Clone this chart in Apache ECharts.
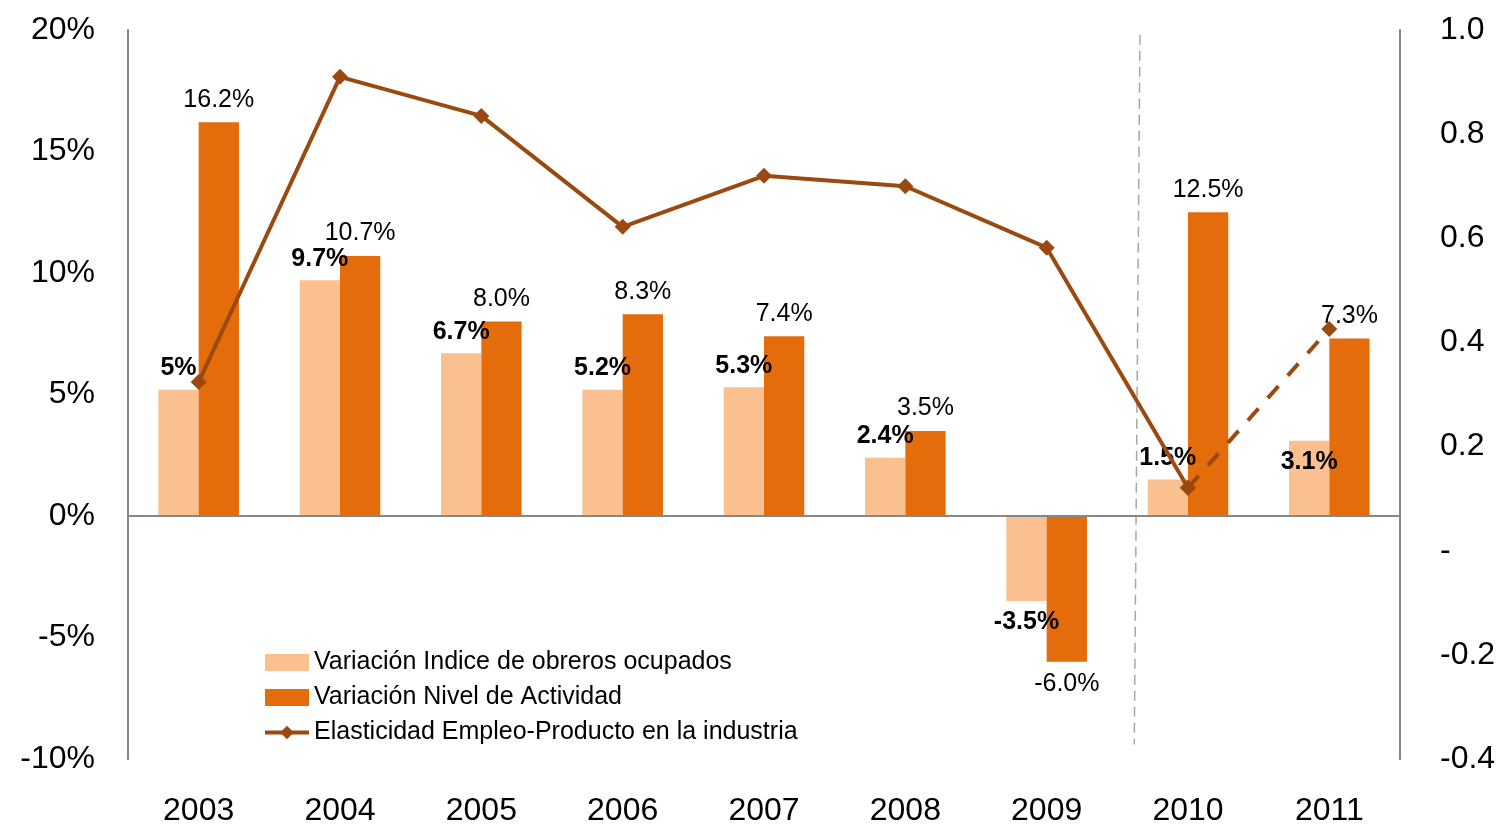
<!DOCTYPE html>
<html>
<head>
<meta charset="utf-8">
<script src="https://cdn.jsdelivr.net/npm/echarts@6/dist/echarts.min.js"></script>
<style>
html,body{margin:0;padding:0;background:#fff;}
#chart{width:1505px;height:827px;}
</style>
</head>
<body>
<div id="chart"></div>
<script>
var categories = ['2003','2004','2005','2006','2007','2008','2009','2010','2011'];
var obreros = [5.2, 9.7, 6.7, 5.2, 5.3, 2.4, -3.5, 1.5, 3.1];
var obrerosLabels = ['5%','9.7%','6.7%','5.2%','5.3%','2.4%','-3.5%','1.5%','3.1%'];
var actividad = [16.2, 10.7, 8.0, 8.3, 7.4, 3.5, -6.0, 12.5, 7.3];
var actividadLabels = ['16.2%','10.7%','8.0%','8.3%','7.4%','3.5%','-6.0%','12.5%','7.3%'];
var elasticidad = [0.324, 0.91, 0.835, 0.622, 0.72, 0.70, 0.582, 0.121, null];
var elasticidadProy = [null, null, null, null, null, null, null, 0.121, 0.426];
var separatorX = [6.66, 6.62];
var separatorY = [19.8, -9.4];
var names = ['Variación Indice de obreros ocupados','Variación Nivel de Actividad','Elasticidad Empleo-Producto en la industria'];

var FONT = 'Liberation Sans, Arial, sans-serif';
var LINE = '#9A4A10';

function barData(vals, labels, bold) {
  return vals.map(function (v, i) {
    var lab = {show: true, formatter: labels[i], position: v < 0 ? 'bottom' : 'top', distance: bold ? 9 : 10};
    if (bold && i === 8) { lab.position = 'insideTop'; lab.distance = 9; }
    return {value: v, label: lab};
  });
}

var chart = echarts.init(document.getElementById('chart'));
chart.setOption({
  animation: false,
  textStyle: {fontFamily: FONT},
  grid: {left: 128, right: 105, top: 30, bottom: 67, containLabel: false},
  legend: {
    data: [
      {name: names[0], icon: 'rect'},
      {name: names[1], icon: 'rect'},
      {name: names[2], lineStyle: {width: 4, color: LINE}}
    ],
    orient: 'vertical', left: 263, top: 650, padding: 0,
    itemWidth: 44, itemHeight: 17, itemGap: 10,
    textStyle: {fontSize: 25, color: '#000', fontFamily: FONT}
  },
  xAxis: [{
    type: 'category', data: categories,
    axisLine: {show: false, onZero: false}, axisTick: {show: false},
    axisLabel: {fontSize: 32, color: '#000', margin: 36, fontFamily: FONT}
  }, {
    type: 'value', min: -0.5, max: 8.5, show: false
  }],
  yAxis: [{
    type: 'value', min: -10, max: 20, interval: 5,
    axisLine: {show: true, onZero: false, lineStyle: {color: '#868686', width: 2}},
    axisTick: {show: false}, splitLine: {show: false},
    axisLabel: {fontSize: 32, color: '#000', margin: 33, formatter: '{value}%', fontFamily: FONT}
  }, {
    type: 'value', min: -0.4, max: 1.0, interval: 0.2, position: 'right',
    axisLine: {show: true, onZero: false, lineStyle: {color: '#868686', width: 2}},
    axisTick: {show: false}, splitLine: {show: false},
    axisLabel: {fontSize: 32, color: '#000', margin: 40, fontFamily: FONT,
      formatter: function (v) { return Math.abs(v) < 1e-9 ? '-' : v.toFixed(1); }}
  }],
  series: [{
    name: names[0], type: 'bar', data: barData(obreros, obrerosLabels, true),
    itemStyle: {color: '#FAC090'}, barGap: '0%', barCategoryGap: '43%',
    label: {fontSize: 25, fontWeight: 'bold', color: '#000', fontFamily: FONT},
    markLine: {silent: true, symbol: 'none', label: {show: false},
      lineStyle: {color: '#868686', type: 'solid', width: 2},
      data: [{yAxis: 0}]},
    z: 2
  }, {
    name: names[1], type: 'bar', data: barData(actividad, actividadLabels, false),
    itemStyle: {color: '#E46C0A'}, barGap: '0%', barCategoryGap: '43%',
    label: {fontSize: 25, color: '#000', fontFamily: FONT},
    z: 2
  }, {
    name: names[2], type: 'line', yAxisIndex: 1, data: elasticidad,
    lineStyle: {color: LINE, width: 4}, itemStyle: {color: LINE},
    symbol: 'diamond', symbolSize: 16, showSymbol: true, connectNulls: false,
    z: 5
  }, {
    name: 'proy', type: 'line', yAxisIndex: 1, data: elasticidadProy,
    lineStyle: {color: LINE, width: 4, type: [16, 14]}, itemStyle: {color: LINE},
    symbol: 'diamond', symbolSize: 16, showSymbol: true,
    z: 5
  }, {
    name: 'sep', type: 'line', xAxisIndex: 1, yAxisIndex: 0,
    data: separatorX.map(function (x, i) { return [x, separatorY[i]]; }),
    lineStyle: {color: '#A6A6A6', width: 1.5, type: [10, 6]},
    symbol: 'none', silent: true, z: 1
  }]
});
</script>
</body>
</html>
